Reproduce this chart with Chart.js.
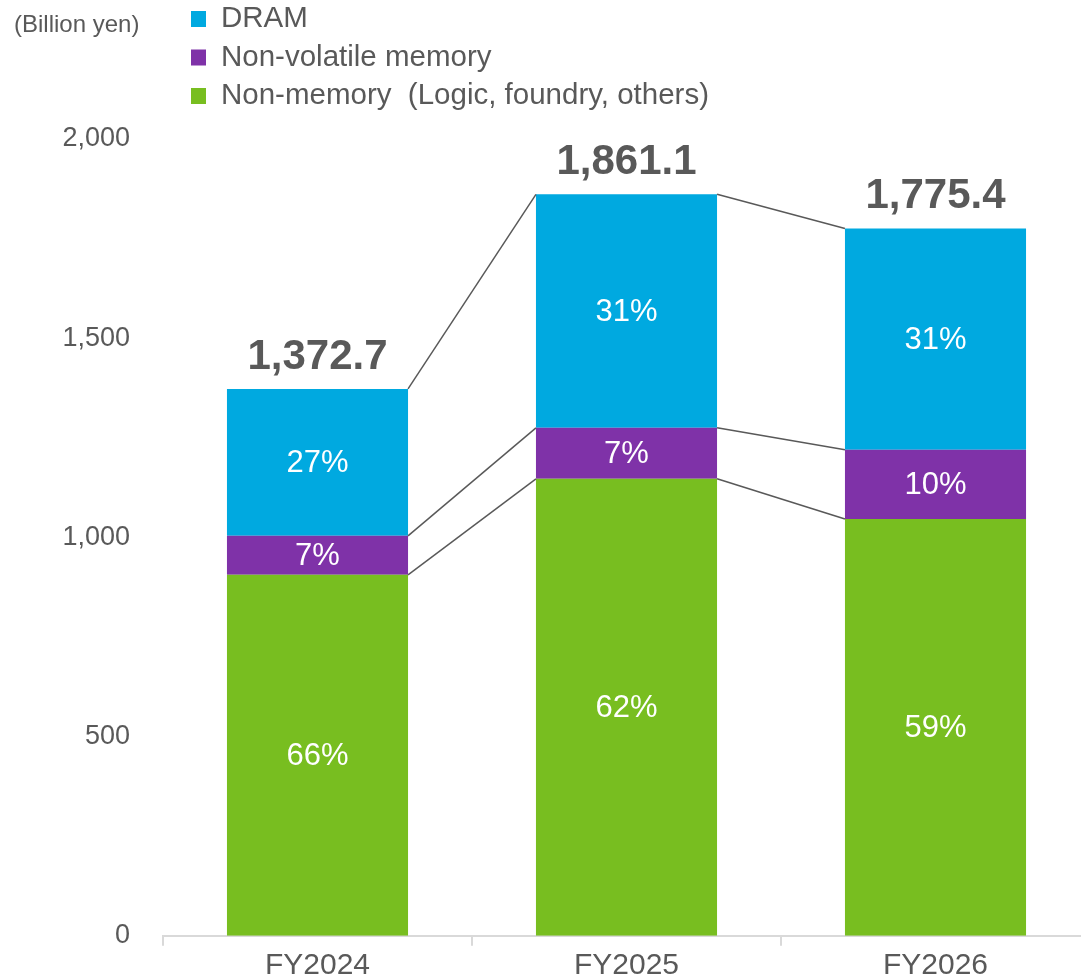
<!DOCTYPE html>
<html>
<head>
<meta charset="utf-8">
<script src="https://cdn.jsdelivr.net/npm/chart.js@4"></script>
<style>
  html, body { margin: 0; padding: 0; background: #fff; overflow: hidden; }
  #wrap { position: relative; width: 1081px; height: 977px; overflow: hidden; }
  canvas { display: block; }
</style>
</head>
<body>
<div id="wrap"><canvas id="myChart" width="1091" height="977"></canvas></div>
<script>
const labels = ["FY2024", "FY2025", "FY2026"];

// billion yen, bottom to top
const nonMemory = [906, 1147, 1046];
const nonVolatile = [98, 128, 174];
const dram = [368.7, 586.1, 555.4];
const totals = [1372.7, 1861.1, 1775.4];

// shares shown inside the bars (%)
const nonMemoryShare = [66, 62, 59];
const nonVolatileShare = [7, 7, 10];
const dramShare = [27, 31, 31];

const yTicks = [0, 500, 1000, 1500, 2000];

const gray = "#595959";
const font = "'Liberation Sans', Arial, sans-serif";

const data = {
  labels: labels,
  datasets: [
    {
      label: "Non-memory  (Logic, foundry, others)",
      data: nonMemory,
      shares: nonMemoryShare,
      backgroundColor: "#78be20",
    },
    {
      label: "Non-volatile memory",
      data: nonVolatile,
      shares: nonVolatileShare,
      backgroundColor: "#7f32a8",
    },
    {
      label: "DRAM",
      data: dram,
      shares: dramShare,
      backgroundColor: "#00a9e0",
    },
  ],
};

// percent labels, totals, connector lines and the stacked legend
const decorations = {
  id: "decorations",
  afterDatasetsDraw(chart) {
    const ctx = chart.ctx;
    const metas = chart.data.datasets.map((d, i) => chart.getDatasetMeta(i));
    const y = chart.scales.y;

    // connector lines between bars
    ctx.save();
    ctx.strokeStyle = gray;
    ctx.lineWidth = 1.5;
    for (let i = 0; i < labels.length - 1; i++) {
      const a = metas[0].data[i];
      const b = metas[0].data[i + 1];
      const xa = a.x + a.width / 2;
      const xb = b.x - b.width / 2;
      let cumA = 0, cumB = 0;
      chart.data.datasets.forEach((ds) => {
        cumA += ds.data[i];
        cumB += ds.data[i + 1];
        ctx.beginPath();
        ctx.moveTo(xa, y.getPixelForValue(cumA));
        ctx.lineTo(xb, y.getPixelForValue(cumB));
        ctx.stroke();
      });
    }
    ctx.restore();

    // share labels
    ctx.save();
    ctx.fillStyle = "#ffffff";
    ctx.font = "31px " + font;
    ctx.textAlign = "center";
    ctx.textBaseline = "middle";
    chart.data.datasets.forEach((ds, di) => {
      metas[di].data.forEach((bar, i) => {
        const mid = (bar.y + bar.base) / 2;
        ctx.fillText(ds.shares[i] + "%", bar.x, mid + 1);
      });
    });
    ctx.restore();

    // totals
    ctx.save();
    ctx.fillStyle = gray;
    ctx.font = "bold 42px " + font;
    ctx.textAlign = "center";
    ctx.textBaseline = "alphabetic";
    totals.forEach((t, i) => {
      const x = metas[0].data[i].x;
      const top = y.getPixelForValue(t);
      ctx.fillText(t.toLocaleString("en-US", { minimumFractionDigits: 1 }), x, top - 20);
    });
    ctx.restore();

    // unit + legend
    ctx.save();
    ctx.fillStyle = gray;
    ctx.font = "24px " + font;
    ctx.textAlign = "left";
    ctx.textBaseline = "middle";
    ctx.fillText("(Billion yen)", 14, 25);
    ctx.font = "29.5px " + font;
    const rows = chart.data.datasets.slice().reverse();
    rows.forEach((ds, r) => {
      const cy = 19 + r * 38.5;
      ctx.fillStyle = ds.backgroundColor;
      ctx.fillRect(191, cy - 8, 15, 16);
      ctx.fillStyle = gray;
      ctx.fillText(ds.label, 221, cy);
    });
    ctx.restore();
  },
};

const config = {
  type: "bar",
  data: data,
  options: {
    responsive: false,
    animation: false,
    layout: { padding: { top: 139, right: 1, left: 0, bottom: -8 } },
    datasets: {
      bar: {
        categoryPercentage: 1,
        barPercentage: 0.586,
        borderWidth: 0,
      },
    },
    plugins: {
      legend: { display: false },
      tooltip: { enabled: false },
    },
    scales: {
      x: {
        stacked: true,
        grid: {
          offset: true,
          drawOnChartArea: false,
          drawTicks: true,
          tickLength: 10,
          color: "#d9d9d9",
          lineWidth: 2,
        },
        border: { color: "#d9d9d9", width: 2 },
        ticks: {
          color: gray,
          font: { family: font, size: 30 },
          padding: 2,
        },
        afterFit(scale) {
          scale.height = 41;
        },
      },
      y: {
        stacked: true,
        min: 0,
        max: 2000,
        afterBuildTicks(scale) {
          scale.ticks = yTicks.map((v) => ({ value: v }));
        },
        grid: { display: false },
        border: { display: false },
        ticks: {
          color: gray,
          padding: 25,
          font: { family: font, size: 27 },
          callback: (v) => v.toLocaleString("en-US"),
        },
        afterFit(scale) {
          scale.width = 163;
        },
      },
    },
  },
  plugins: [decorations],
};

let myChart = new Chart(document.getElementById("myChart"), config);
</script>
</body>
</html>
